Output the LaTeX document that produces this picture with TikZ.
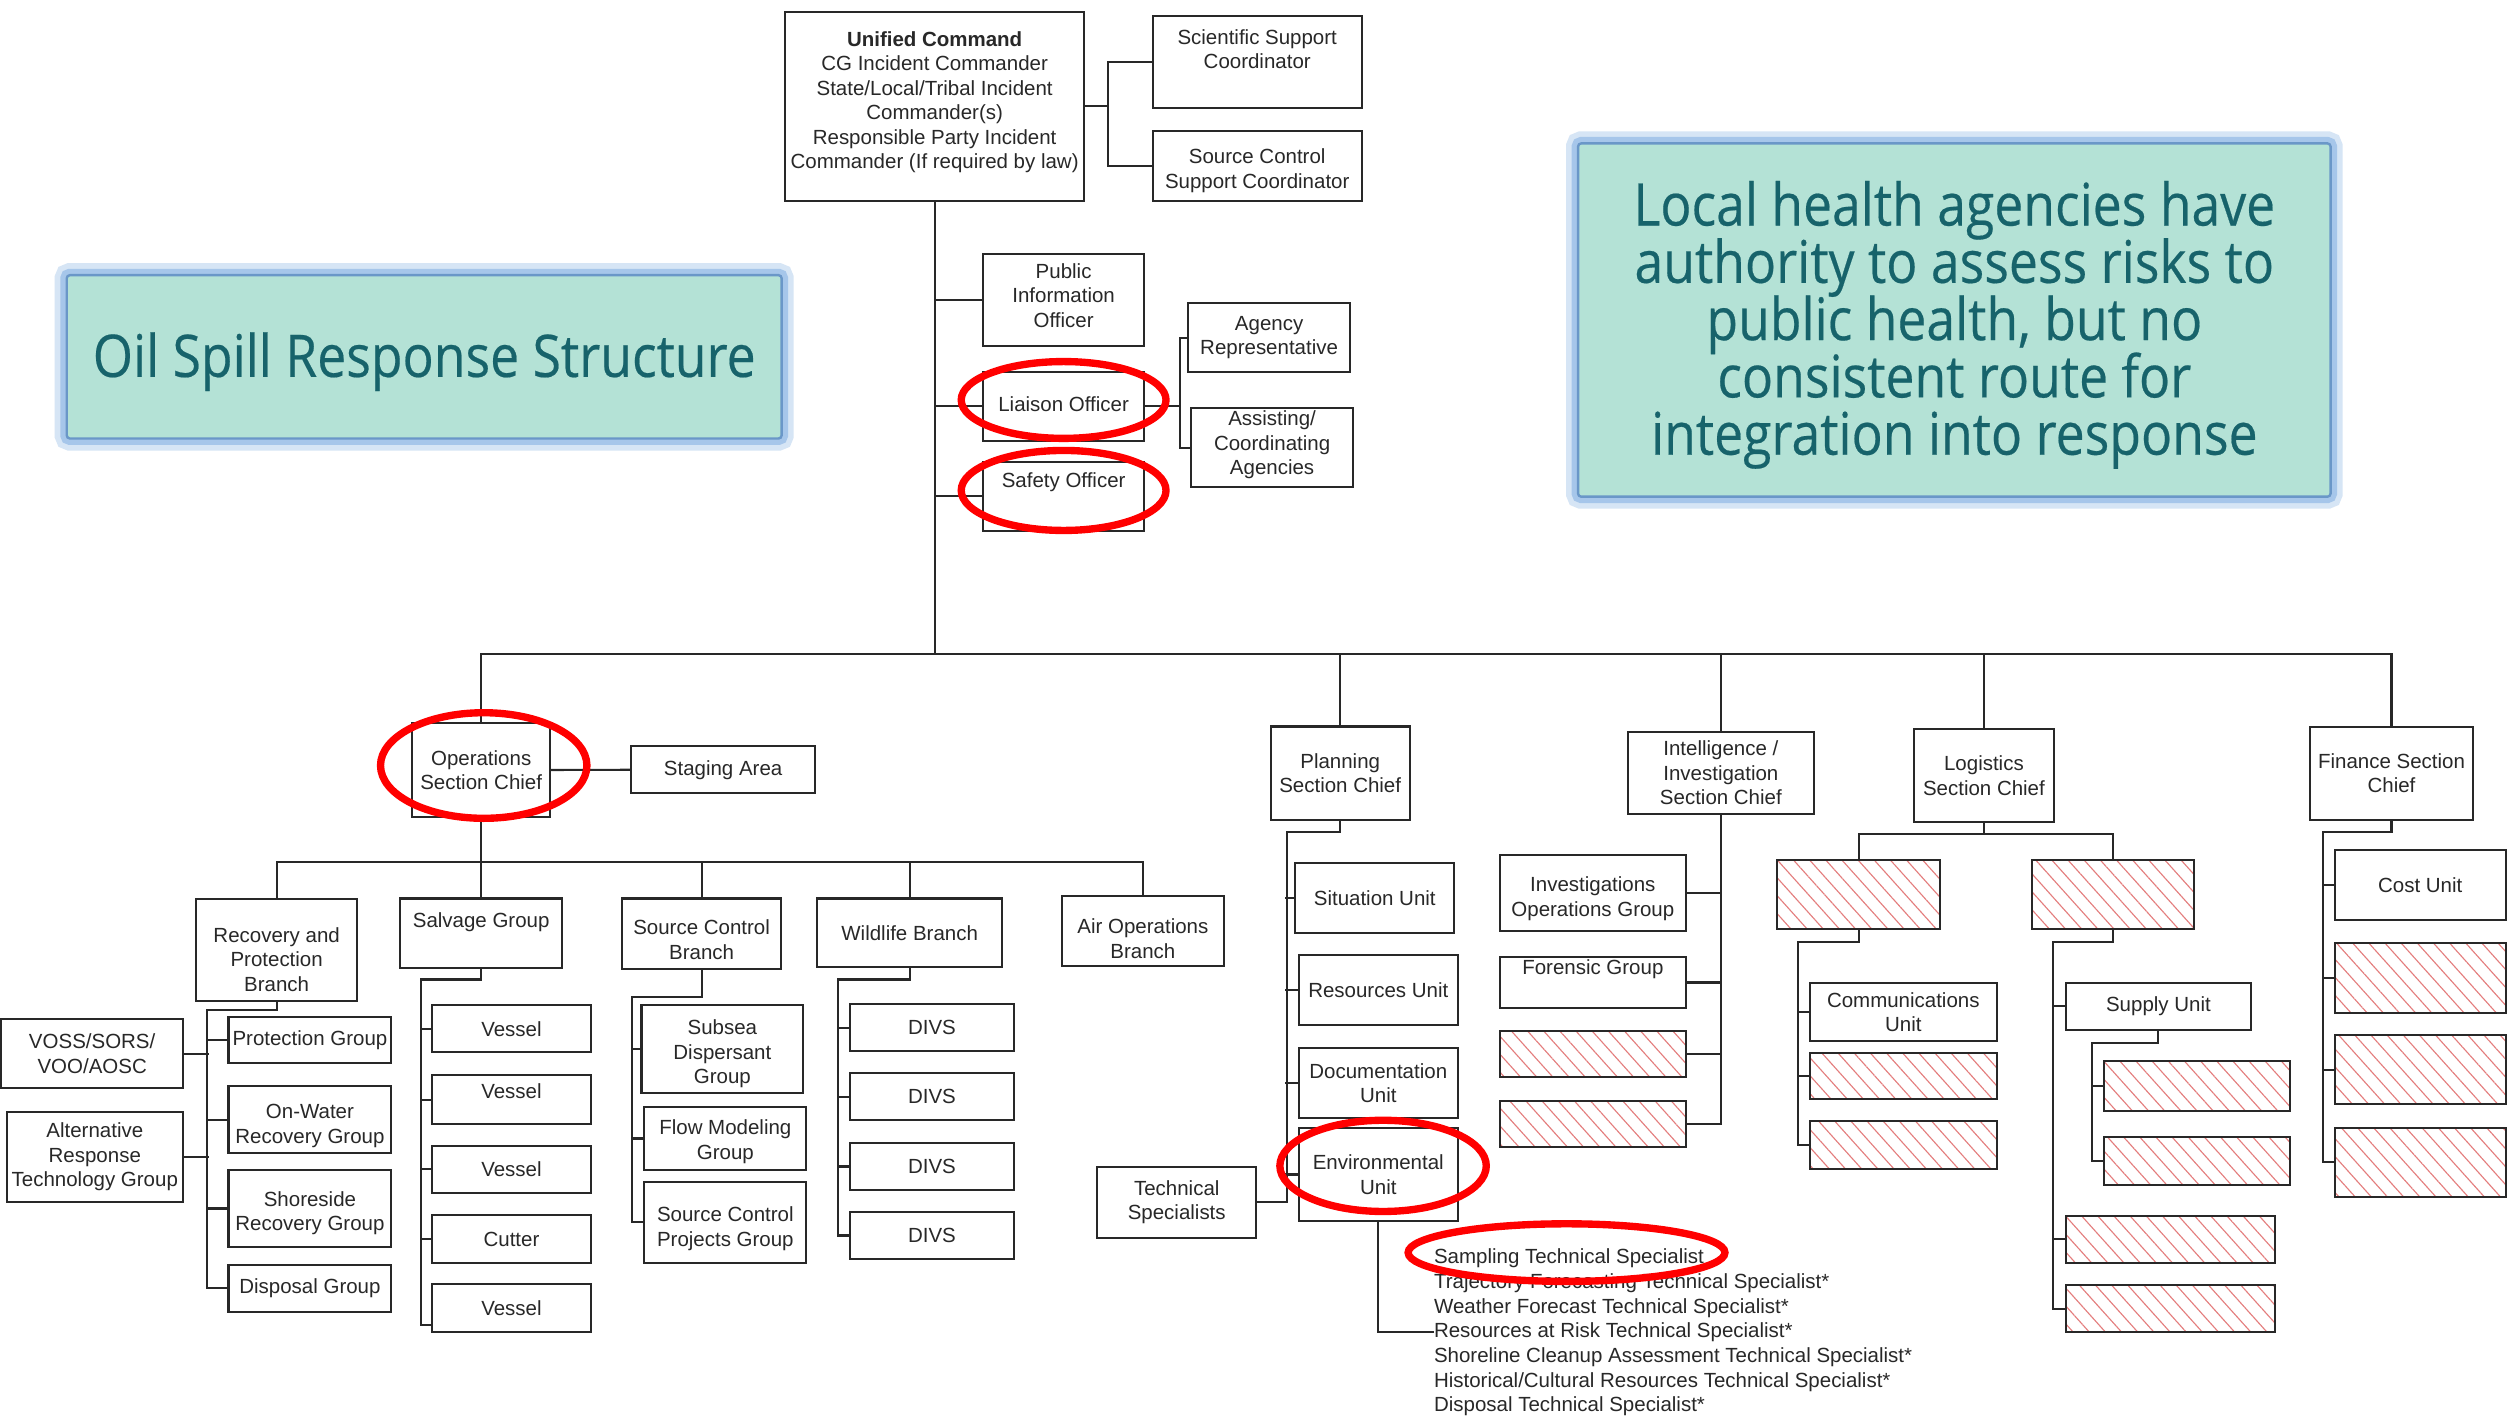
\documentclass[tikz,border=0pt]{standalone}
\usepackage{fontspec}
\setmainfont{Liberation Sans}
\newfontfamily\titlefont[FakeStretch=0.88,FakeBold=0.35]{Open Sans}
\usetikzlibrary{patterns.meta}
\definecolor{tealtxt}{RGB}{23,99,107}
\definecolor{tealfill}{RGB}{180,226,214}
\definecolor{glow}{RGB}{118,168,222}
\definecolor{hatch}{RGB}{228,125,125}
\definecolor{ink}{RGB}{40,40,40}
\newcommand\tightlines{\lineskiplimit=-30pt\relax\lineskip=0pt\relax}
\tikzset{
  box/.style={rectangle, draw=ink, line width=1.3pt, fill=white, inner sep=0pt},
  lbl/.style={font=\fontsize{12.8}{15.3}\selectfont, text=ink, align=center, inner sep=0pt},
  hbox/.style={rectangle, draw=ink, line width=1.3pt, inner sep=0pt,
    pattern={Lines[angle=-48,distance=7.5pt,line width=0.7pt]}, pattern color=hatch},
  conn/.style={draw=ink, line width=1.3pt},
  redring/.style={draw=red, line width=4.6pt},
  tbox/.style={rectangle, rounded corners=2pt, fill=tealfill, draw=glow!90!black, line width=1.5pt,
    inner sep=0pt,
    preaction={draw=glow!30, line width=15pt},
    preaction={draw=glow!65, line width=8pt}},
  ttxt/.style={text=tealtxt, align=center, inner sep=0pt,
    font=\titlefont\fontsize{36.7}{35.8}\selectfont\tightlines}
}
% box: [text shift down] name x1 y1 x2 y2 text
\newcommand\bx[7][0]{\node[box, minimum width=#5-#3, minimum height=#6-#4,
  label={[lbl,yshift=-(#1)*1pt]center:{#7}}] (#2) at ({(#3+#5)/2},{(#4+#6)/2}) {};}
\newcommand\hb[5]{\node[hbox, minimum width=#4-#2, minimum height=#5-#3] (#1) at ({(#2+#4)/2},{(#3+#5)/2}) {};}
\begin{document}
\begin{tikzpicture}[x=1pt,y=-1pt]
\fill[white] (0,0) rectangle (1568,884.3);
\useasboundingbox (0,0) rectangle (1568,884.3);

% ---- title boxes ----
\node[tbox, minimum width=446.8, minimum height=102.1,
  label={[ttxt,yshift=-3pt]center:{Oil Spill Response Structure}}] (title) at (265.1,223) {};
\node[tbox, minimum width=470.3, minimum height=220.8,
  label={[ttxt,yshift=-3pt]center:{Local health agencies have\\authority to assess risks to\\public health, but no\\consistent route for\\integration into response}}] (note) at (1221.35,200) {};

% ---- command staff ----
\bx[-2.5]{uc}{490.6}{7.3}{677.6}{125.6}{\textbf{Unified Command}\\CG Incident Commander\\State/Local/Tribal Incident\\Commander(s)\\Responsible Party Incident\\Commander (If required by law)}
\bx[-7.8]{sci}{720.4}{9.8}{851}{67.3}{Scientific Support\\Coordinator}
\bx[3]{scs}{720.4}{81.9}{851}{125.6}{Source Control\\Support Coordinator}
\bx[-3]{pio}{614.2}{158.8}{715.2}{216.3}{Public\\Information\\Officer}
\bx[-1.4]{lia}{614.2}{232.3}{715.2}{275.4}{Liaison Officer}
\bx[-8.7]{saf}{614.2}{288.5}{715.2}{331.9}{Safety Officer}
\bx{agr}{742.5}{189.2}{843.75}{232.7}{Agency\\Representative}
\bx[-1.8]{asa}{744.2}{255.2}{845.8}{304.6}{Assisting/\\Coordinating\\Agencies}

\draw[conn] (uc.east) -- ++(14.1,0) coordinate (uj) |- (sci.west);
\draw[conn] (uj) |- (scs.west);
\coordinate (bus) at (584.1,408.5);
\draw[conn] (uc.south) -- (bus);
\draw[conn] (pio.west) -- (pio.west -| uc.south);
\draw[conn] (lia.west) -- (lia.west -| uc.south);
\draw[conn] (saf.west) -- (saf.west -| uc.south);
\draw[conn] (lia.east) -- ++(21.8,0) coordinate (lj) |- (agr.west);
\draw[conn] (lj) |- (asa.west);

% ---- sections ----
\bx{ops}{257.6}{452}{343.8}{510.4}{Operations\\Section Chief}
\bx{stg}{394.6}{466.3}{509.2}{495.8}{Staging Area}
\bx{plan}{794.1}{454}{881}{512.2}{Planning\\Section Chief}
\bx{intel}{1017.4}{457.2}{1133.5}{508.8}{Intelligence /\\Investigation\\Section Chief}
\bx{logi}{1196}{455.8}{1283.7}{513.6}{Logistics\\Section Chief}
\bx{fin}{1443.6}{454.4}{1545.5}{512.2}{Finance Section\\Chief}

\draw[conn] (ops.north) -- (ops.north |- bus) -- (fin.north |- bus) -- (fin.north);
\draw[conn] (plan.north) -- (plan.north |- bus);
\draw[conn] (intel.north) -- (intel.north |- bus);
\draw[conn] (logi.north) -- (logi.north |- bus);
\draw[conn] (ops.east) -- (stg.west);

% ---- operations ----
\bx[6]{rpb}{122.6}{562}{223.2}{625.4}{Recovery and\\Protection\\Branch}
\bx[-7]{salv}{250.1}{561.5}{351.3}{605.2}{Salvage Group}
\bx[3.7]{scb}{388.6}{561.5}{488.3}{605.8}{Source Control\\Branch}
\bx{wlb}{510.7}{561.5}{626.3}{604.6}{Wildlife Branch}
\bx[4.8]{aob}{663.7}{560}{764.8}{603.75}{Air Operations\\Branch}
\coordinate (ob) at (300.7,538.75);
\draw[conn] (ops.south) -- (ops.south |- ob);
\draw[conn] (rpb.north) -- (rpb.north |- ob) -- (aob.north |- ob) -- (aob.north);
\draw[conn] (salv.north) -- (salv.north |- ob);
\draw[conn] (scb.north) -- (scb.north |- ob);
\draw[conn] (wlb.north) -- (wlb.north |- ob);

\bx{prot}{142.8}{635.4}{244.6}{664.2}{Protection Group}
\bx[4]{onw}{142.8}{678.75}{244.6}{720.8}{On-Water\\Recovery Group}
\bx[3]{shr}{142.8}{731.25}{244.6}{779.2}{Shoreside\\Recovery Group}
\bx{dsp}{142.8}{790.6}{244.6}{819.8}{Disposal Group}
\bx{voss}{0.8}{636.9}{114.4}{680.2}{VOSS/SORS/\\VOO/AOSC}
\bx{art}{4.4}{694.8}{114.1}{751}{Alternative\\Response\\Technology Group}
\draw[conn] (rpb.south) -- ++(0,5.4) -| ([xshift=-12.6pt]dsp.west) -- (dsp.west);
\draw[conn] (prot.west) -- ++(-12.6,0);
\draw[conn] (onw.west) -- ++(-12.6,0);
\draw[conn] (shr.west) -- ++(-12.6,0);
\draw[conn] (voss.east) -- ++(15.8,0);
\draw[conn] (art.east) -- ++(16.1,0);

\bx{v1}{270}{628.1}{369.3}{657.7}{Vessel}
\bx[-5]{v2}{270}{671.9}{369.3}{702.5}{Vessel}
\bx{v3}{270}{716}{369.3}{745.4}{Vessel}
\bx{cut}{270}{759.4}{369.3}{789.2}{Cutter}
\bx{v5}{270}{802.5}{369.3}{832.3}{Vessel}
\draw[conn] (salv.south) -- ++(0,6.3) -| ([shift={(-6.5pt,5pt)}]v5.south west) -- ([yshift=5pt]v5.south west);
\draw[conn] (v1.west) -- ++(-6.5,0);
\draw[conn] (v2.west) -- ++(-6.5,0);
\draw[conn] (v3.west) -- ++(-6.5,0);
\draw[conn] (cut.west) -- ++(-6.5,0);

\bx[3]{sub}{400.9}{628.1}{502}{682.9}{Subsea\\Dispersant\\Group}
\bx[2]{flow}{402.7}{691.7}{503.9}{731.25}{Flow Modeling\\Group}
\bx[4]{scp}{402.7}{738.5}{503.9}{789.2}{Source Control\\Projects Group}
\draw[conn] (scb.south) -- ++(0,16.7) -| ([xshift=-7pt]scp.west) -- (scp.west);
\draw[conn] (sub.west) -- ++(-5.2,0);
\draw[conn] (flow.west) -- ++(-7,0);

\bx{d1}{531.1}{627.7}{633.8}{656.9}{DIVS}
\bx{d2}{531.1}{670.8}{633.8}{700}{DIVS}
\bx{d3}{531.1}{714.2}{633.8}{743.75}{DIVS}
\bx{d4}{531.1}{757.3}{633.8}{786.9}{DIVS}
\draw[conn] (wlb.south) -- ++(0,6.9) -| ([xshift=-6.5pt]d4.west) -- (d4.west);
\draw[conn] (d1.west) -- ++(-6.5,0);
\draw[conn] (d2.west) -- ++(-6.5,0);
\draw[conn] (d3.west) -- ++(-6.5,0);

% ---- planning ----
\bx{sit}{809.5}{539.4}{908.8}{583}{Situation Unit}
\bx{res}{811.7}{596.7}{911}{640.7}{Resources Unit}
\bx{doc}{811.7}{655}{911}{698.6}{Documentation\\Unit}
\bx{env}{811.7}{705.2}{911}{762.8}{Environmental\\Unit}
\bx{tsp}{685.6}{729.4}{785.2}{773.4}{Technical\\Specialists}
\draw[conn] (plan.south) -- ++(0,7.2) -| ([xshift=18.7pt]tsp.east) -- (tsp.east);
\draw[conn] (sit.west) -- ++(-5.6,0);
\draw[conn] (res.west) -- ++(-7.8,0);
\draw[conn] (doc.west) -- ++(-7.8,0);
\draw[conn] (env.west) -- ++(-7.8,0);
\node[lbl, font=\fontsize{12.8}{15.45}\selectfont, align=left, anchor=west] (spl) at (896,832.7)
  {Sampling Technical Specialist\\Trajectory Forecasting Technical Specialist*\\Weather Forecast Technical Specialist*\\Resources at Risk Technical Specialist*\\Shoreline Cleanup Assessment Technical Specialist*\\Historical/Cultural Resources Technical Specialist*\\Disposal Technical Specialist*};
\draw[conn] (env.south) |- (spl.west);

% ---- intelligence ----
\bx[3.6]{iog}{937.3}{534.6}{1053.6}{581.6}{Investigations\\Operations Group}
\bx[-8]{for}{937.3}{597.9}{1053.6}{630.1}{Forensic Group}
\hb{ih1}{937.3}{644.4}{1053.6}{672.9}
\hb{ih2}{937.3}{688}{1053.6}{716.6}
\draw[conn] (intel.south) |- (ih2.east);
\draw[conn] (iog.east) -- (iog.east -| intel.south);
\draw[conn] (for.east) -- (for.east -| intel.south);
\draw[conn] (ih1.east) -- (ih1.east -| intel.south);

% ---- logistics ----
\hb{l1}{1110.8}{537.3}{1212.6}{580.8}
\hb{l2}{1270.1}{537.3}{1371.4}{580.8}
\draw[conn] (logi.south) -- ++(0,7.2) coordinate (lb);
\draw[conn] (l1.north) |- (lb) -| (l2.north);
\bx{com}{1131}{614.3}{1247.9}{650.6}{Communications\\Unit}
\hb{c2}{1131}{658.1}{1247.9}{686.8}
\hb{c3}{1131}{700.8}{1247.9}{730.6}
\draw[conn] (l1.south) -- ++(0,7.5) -| ([xshift=-6.9pt]c3.west) -- (c3.west);
\draw[conn] (com.west) -- ++(-6.9,0);
\draw[conn] (c2.west) -- ++(-6.9,0);
\bx{sup}{1291}{614.3}{1406.8}{643.6}{Supply Unit}
\hb{s1}{1314.7}{663.1}{1431.3}{694.4}
\hb{s2}{1314.7}{710.3}{1431.3}{740.4}
\hb{l3}{1291}{759.9}{1421.5}{789.2}
\hb{l4}{1291}{803.2}{1421.5}{832.5}
\draw[conn] (l2.south) -- ++(0,7.5) -| ([xshift=-7.1pt]l4.west) -- (l4.west);
\draw[conn] (sup.west) -- ++(-7.1,0);
\draw[conn] (l3.west) -- ++(-7.1,0);
\draw[conn] (sup.south) -- ++(0,7.5) -| ([xshift=-6.8pt]s2.west) -- (s2.west);
\draw[conn] (s1.west) -- ++(-6.8,0);

% ---- finance ----
\bx{cost}{1459}{531.1}{1566}{575.2}{Cost Unit}
\hb{f2}{1459}{589.2}{1566}{633}
\hb{f3}{1459}{646.9}{1566}{690.2}
\hb{f4}{1459}{704.7}{1566}{748.2}
\draw[conn] (fin.south) -- ++(0,7.2) -| ([xshift=-6.8pt]f4.west) -- (f4.west);
\draw[conn] (cost.west) -- ++(-6.8,0);
\draw[conn] (f2.west) -- ++(-6.8,0);
\draw[conn] (f3.west) -- ++(-6.8,0);

% ---- red highlight rings ----
\draw[redring] (lia.center) ++(0pt,3.9pt) ellipse [x radius=64pt, y radius=24pt];
\draw[redring] (saf.center) ++(0pt,3.7pt) ellipse [x radius=64pt, y radius=25pt];
\draw[redring] (ops.center) ++(1.6pt,2.8pt) ellipse [x radius=64.5pt, y radius=33pt];
\draw[redring] (env.center) ++(3pt,5.4pt) ellipse [x radius=64.5pt, y radius=28.5pt];
\draw[redring] (spl.west) ++(83pt,49.9pt) ellipse [x radius=99pt, y radius=18pt];
\end{tikzpicture}
\end{document}
